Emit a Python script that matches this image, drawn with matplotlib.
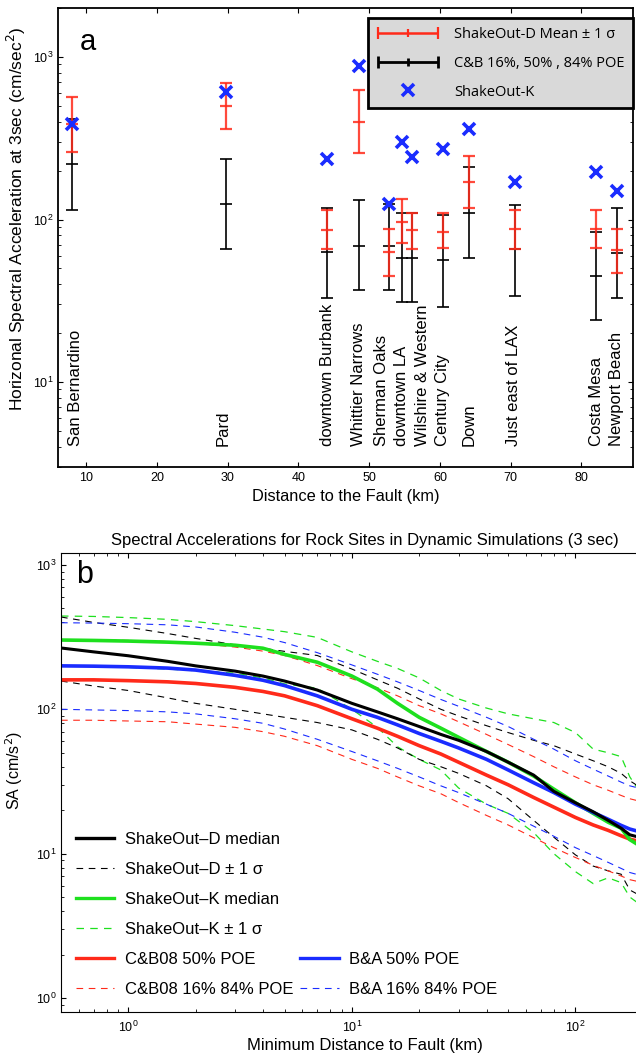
import numpy as np
import matplotlib
matplotlib.use('Agg')
import matplotlib.pyplot as plt
from matplotlib.legend_handler import HandlerErrorbar

plt.rcParams['font.family'] = ['Liberation Sans', 'DejaVu Sans']

RED = '#ff2a1a'; BLUE = '#1a2cff'; GREEN = '#1ee01e'

# ---- panel a: site values (cm/sec^2) ----
sites = ['San Bernardino', 'Pard', 'downtown Burbank', 'Whittier Narrows', 'Sherman Oaks',
         'downtown LA', 'Wilshire & Western', 'Century City', 'Down', 'Just east of LAX',
         'Costa Mesa', 'Newport Beach']
site_km = [8.0, 29.7, 44.0, 48.5, 52.8, 54.6, 56.0, 60.5, 64.1, 70.6, 82.0, 85.1]
label_km = [8.5, 29.4, 44.1, 48.5, 51.8, 54.5, 57.5, 60.4, 64.1, 70.4, 82.2, 85.0]
sod_mean = [388, 500, 86, 400, 63, 97, 86, 84, 171, 87, 87, 65]
sod_lo = [261, 362, 66, 258, 45, 72, 66, 67, 118, 66, 67, 47]
sod_hi = [569, 693, 115, 627, 88, 134, 110, 109, 247, 115, 115, 88]
cb_50_site = [221, 125, 63, 69, 69, 58, 58, 56, 110, 66, 45, 62]
cb_16_site = [115, 66, 33, 37, 37, 31, 31, 29, 58, 34, 24, 33]
cb_84_site = [417, 237, 118, 131, 125, 110, 110, 106, 209, 123, 84, 117]
sok_site = [388, 610, 237, 881, 125, 301, 244, 272, 362, 171, 197, 149]

# ---- panel b: distance curves (cm/s^2) ----
dist = [0.5, 0.7, 1, 1.5, 2, 3, 4, 5, 7, 10, 13, 16, 20, 25, 30, 40, 50, 65, 80, 100, 120, 140, 160, 175, 200]
sd_50 = [266, 250, 235, 215, 200, 184, 170, 157, 136, 110, 96, 86, 76, 67, 61, 51, 43, 35, 27, 22.5, 19.5, 17, 15, 13.5, 12.8]
sd_84 = [436, 400, 370, 335, 310, 280, 265, 252, 236, 190, 160, 140, 118, 100, 90, 77, 69, 61, 56, 49, 44, 40, 36, 32, 28]
sd_16 = [157, 145, 135, 120, 110, 100, 93, 88, 81, 72, 62, 54, 45, 40, 36, 29.5, 24, 17, 13, 9.8, 8.2, 7.6, 7.2, 5.6, 5.0]
sk_50 = [302, 300, 297, 292, 287, 278, 265, 240, 212, 170, 138, 110, 88, 74, 64, 51, 43, 34.5, 28, 22.5, 19, 16.5, 15, 12.5, 11]
sk_84 = [443, 440, 432, 420, 405, 380, 360, 345, 315, 250, 215, 192, 165, 135, 118, 102, 93, 86, 81, 69, 53, 50, 47, 34, 25]
sk_16 = [200, 198, 195, 190, 185, 178, 165, 150, 140, 100, 75, 55, 45, 38, 28.5, 22, 19, 14, 10, 7.5, 6.2, 6.8, 6.3, 5.0, 4.3]
cb_50 = [160, 160, 158, 155, 151, 142, 133, 124, 106, 86, 74, 65, 56, 49, 43, 35, 30, 24.5, 21, 17.8, 15.8, 14.5, 13.3, 12.6, 12.0]
cb_84 = [304, 304, 300, 295, 287, 270, 253, 236, 201, 163, 141, 124, 106, 93, 82, 67, 57, 47, 40, 34, 30, 27.5, 25.3, 24, 22.8]
cb_16 = [84, 84, 83, 82, 79, 75, 70, 65, 56, 45, 39, 34, 29.5, 26, 22.6, 18.4, 15.8, 12.9, 11, 9.4, 8.3, 7.6, 7.0, 6.6, 6.3]
ba_50 = [200, 199, 197, 193, 187, 172, 159, 146, 124, 100, 88, 78, 68, 60, 54, 45, 38, 31, 26.5, 22, 19.3, 17.3, 15.7, 14.8, 14.0]
ba_84 = [398, 396, 392, 385, 372, 342, 316, 290, 247, 203, 175, 155, 135, 117, 105, 88, 76, 62, 53, 44, 38.5, 34.5, 31.3, 29.5, 28]
ba_16 = [100, 99, 98, 96, 93, 86, 80, 73, 62, 51, 44, 39, 34, 29.5, 26.5, 22, 19, 15.5, 13.2, 11, 9.7, 8.7, 7.9, 7.4, 7.0]

fig = plt.figure(figsize=(6.36, 10.55), dpi=100, facecolor='white')

# ── panel a ──
ax = fig.add_axes([0.0912, 0.5573, 0.9041, 0.4351])
ax.set_yscale('log')
ax.set_xlim(6, 87.3); ax.set_ylim(3, 2000)
for i in range(len(sites)):
    x = site_km[i]
    ax.errorbar([x], [cb_50_site[i]], yerr=[[cb_50_site[i] - cb_16_site[i]], [cb_84_site[i] - cb_50_site[i]]],
                fmt='_', color='black', ms=9, mew=1.2, elinewidth=1.2, capsize=4.3, capthick=1.2, zorder=2)
    ax.errorbar([x], [sod_mean[i]], yerr=[[sod_mean[i] - sod_lo[i]], [sod_hi[i] - sod_mean[i]]],
                fmt='_', color=RED, ms=9, mew=1.6, elinewidth=1.6, capsize=4.3, capthick=1.6, alpha=0.85, zorder=3)
    ax.plot([x], [sok_site[i]], 'x', color=BLUE, ms=8, mew=2.6, zorder=4)
    ax.text(label_km[i], 4.05, sites[i], rotation=90, ha='center', va='bottom', fontsize=12)

h1 = ax.errorbar([np.nan], [np.nan], xerr=[1], fmt='|', color=RED, ms=6, mew=1.6, elinewidth=1.8, capsize=4.3, capthick=1.8)
h2 = ax.errorbar([np.nan], [np.nan], xerr=[1], fmt='|', color='black', ms=6, mew=2, elinewidth=2, capsize=4.3, capthick=2)
h3, = ax.plot([np.nan], [np.nan], 'x', color=BLUE, ms=8, mew=2.6)
leg = ax.legend([h1, h2, h3], ['ShakeOut-D Mean ± 1 σ', 'C&B 16%, 50% , 84% POE', 'ShakeOut-K'],
                loc='upper right', bbox_to_anchor=(1.0, 0.978), borderaxespad=0, handlelength=4.3,
                handletextpad=1.0, fancybox=False, framealpha=1, facecolor='#d9d9d9', edgecolor='black',
                borderpad=0.6, labelspacing=0.95, prop={'family': ['Open Sans', 'DejaVu Sans'], 'size': 10.5},
                handler_map={h1: HandlerErrorbar(xerr_size=2.05), h2: HandlerErrorbar(xerr_size=2.05)})
leg.get_frame().set_linewidth(2)
ax.text(0.038, 0.926, 'a', transform=ax.transAxes, fontsize=21, ha='left', va='center')
ax.set_xticks([10, 20, 30, 40, 50, 60, 70, 80])
ax.set_xlabel('Distance to the Fault (km)', fontsize=11.8, labelpad=4)
ax.set_ylabel('Horizonal Spectral Acceleration at 3sec (cm/sec$^2$)', fontsize=12.5)
ax.yaxis.set_label_coords(-0.052, 0.54)
ax.tick_params(which='both', direction='in', top=True, right=True, labelsize=9)
for s in ax.spines.values(): s.set_linewidth(1.3)

# ── panel b ──
bx = fig.add_axes([0.0959, 0.0408, 0.956, 0.435])
bx.set_xscale('log'); bx.set_yscale('log')
bx.set_xlim(0.5, 262); bx.set_ylim(0.8, 1210)
dash = (0, (6, 5))
bx.plot(dist, sk_84, color=GREEN, lw=0.9, ls=dash)
bx.plot(dist, sk_16, color=GREEN, lw=0.9, ls=dash)
bx.plot(dist, sd_84, color='black', lw=0.8, ls=dash)
bx.plot(dist, sd_16, color='black', lw=0.8, ls=dash)
bx.plot(dist, cb_84, color=RED, lw=0.8, ls=dash)
bx.plot(dist, cb_16, color=RED, lw=0.8, ls=dash)
bx.plot(dist, ba_84, color=BLUE, lw=0.8, ls=dash)
bx.plot(dist, ba_16, color=BLUE, lw=0.8, ls=dash)
bx.plot(dist, cb_50, color=RED, lw=2.6)
bx.plot(dist, sk_50, color=GREEN, lw=2.6)
bx.plot(dist, ba_50, color=BLUE, lw=2.6)
bx.plot(dist, sd_50, color='black', lw=2.2)

mk = lambda c, ls, lw: plt.Line2D([], [], color=c, ls=ls, lw=lw)
blank = plt.Line2D([], [], color='none')
handles = [mk('black', '-', 2.4), mk('black', dash, 0.8), mk(GREEN, '-', 2.4), mk(GREEN, dash, 0.9),
           mk(RED, '-', 2.4), mk(RED, dash, 0.8),
           blank, blank, blank, blank, mk(BLUE, '-', 2.4), mk(BLUE, dash, 0.8)]
labels = ['ShakeOut–D median', 'ShakeOut–D ± 1 σ', 'ShakeOut–K median', 'ShakeOut–K ± 1 σ',
          'C&B08 50% POE', 'C&B08 16% 84% POE', '', '', '', '', 'B&A 50% POE', 'B&A 16% 84% POE']
bx.legend(handles, labels, ncol=2, loc='lower left', bbox_to_anchor=(0.0, 0.0), frameon=False,
          fontsize=12, handlelength=2.3, labelspacing=0.9, columnspacing=0.4, handletextpad=0.65)
bx.text(0.025, 0.952, 'b', transform=bx.transAxes, fontsize=22, ha='left', va='center')
bx.set_title('Spectral Accelerations for Rock Sites in Dynamic Simulations (3 sec)', fontsize=12, pad=6)
bx.set_xlabel('Minimum Distance to Fault (km)', fontsize=12, labelpad=2)
bx.set_ylabel('SA (cm/s$^2$)', fontsize=11.5)
bx.yaxis.set_label_coords(-0.059, 0.527)
bx.tick_params(which='both', direction='in', top=True, right=True, labelsize=9)
bx.tick_params(axis='x', pad=6)

plt.savefig('out.png', dpi=100, facecolor='white')
